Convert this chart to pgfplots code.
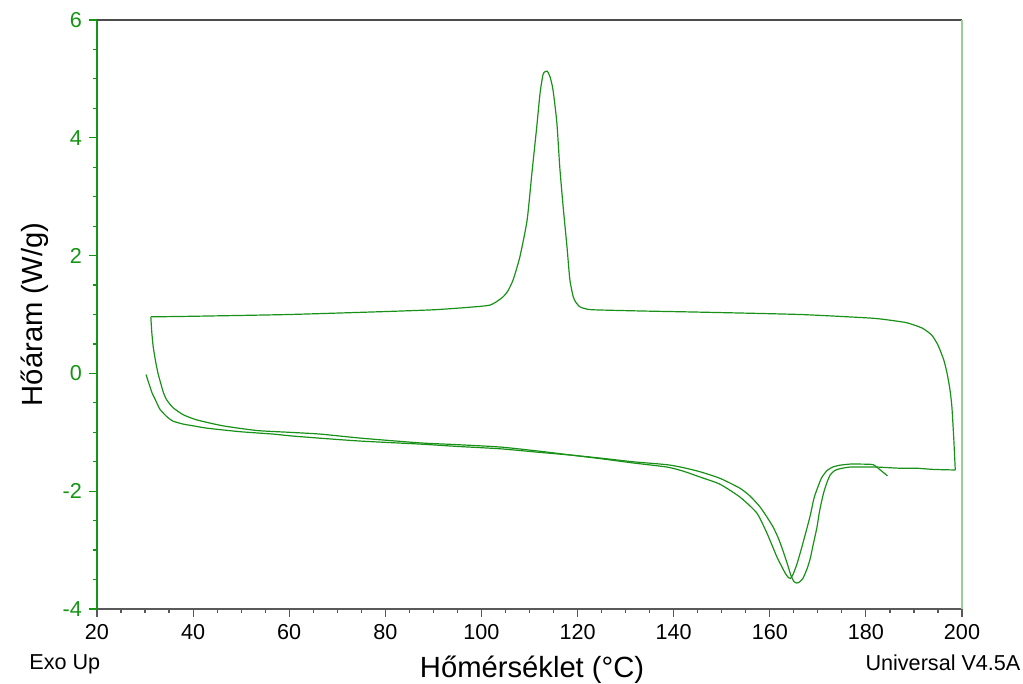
\documentclass[border=0pt]{standalone}
\usepackage{pgfplots}
\pgfplotsset{compat=1.18}
\usepackage{pgfplotstable}
\usepackage{fontspec}
\setmainfont{Liberation Sans}
\definecolor{dscgreen}{RGB}{25,145,25}
\definecolor{axgreen}{RGB}{20,150,20}
\definecolor{lightgreen}{RGB}{150,210,150}

% first heating
\pgfplotstableread{
T q
30.2 -0.02
30.6 -0.12
31.0 -0.22
31.5 -0.34
32.1 -0.44
33.1 -0.61
34.6 -0.74
35.8 -0.81
37.9 -0.86
40.0 -0.89
42.9 -0.93
49.8 -0.99
56.6 -1.03
60.2 -1.06
66.4 -1.10
75.0 -1.15
87.2 -1.20
95.0 -1.24
103.9 -1.28
112.0 -1.34
119.0 -1.39
125.0 -1.44
131.5 -1.50
138.6 -1.55
142.0 -1.60
145.5 -1.67
149.6 -1.78
153.8 -1.95
156.0 -2.09
158.0 -2.27
159.5 -2.45
160.7 -2.61
161.8 -2.80
162.7 -3.00
163.6 -3.22
164.4 -3.43
165.0 -3.53
165.6 -3.56
166.2 -3.54
166.9 -3.48
167.7 -3.33
168.4 -3.15
169.0 -2.92
169.8 -2.62
170.4 -2.32
171.2 -2.03
171.9 -1.85
172.6 -1.72
173.5 -1.65
174.5 -1.62
176.7 -1.59
180.2 -1.59
182.3 -1.59
187.1 -1.61
190.6 -1.61
194.0 -1.63
198.6 -1.64
}\heatone

% cooling
\pgfplotstableread{
T q
198.6 -1.64
198.4 -1.30
198.3 -1.13
197.9 -0.57
197.5 -0.28
196.9 0.00
196.2 0.23
195.0 0.48
193.7 0.65
191.7 0.77
188.5 0.86
184.4 0.91
180.8 0.94
166.3 1.00
145.5 1.04
133.0 1.06
123.2 1.08
121.5 1.10
120.5 1.13
119.7 1.20
119.1 1.30
118.4 1.59
117.8 2.15
117.0 2.83
116.3 3.50
115.7 4.25
114.9 4.81
114.3 5.03
113.7 5.13
113.2 5.12
112.8 5.07
112.2 4.76
111.5 4.18
110.5 3.40
109.5 2.60
108.0 1.98
106.6 1.59
105.5 1.40
104.5 1.30
103.0 1.21
101.8 1.16
100.0 1.14
95.5 1.11
90.0 1.08
80.0 1.05
60.0 1.00
40.0 0.97
31.2 0.96
}\cooling

% second heating
\pgfplotstableread{
T q
31.2 0.96
31.4 0.70
31.7 0.45
32.2 0.20
32.7 0.00
33.2 -0.15
33.8 -0.32
34.5 -0.45
35.8 -0.58
37.9 -0.70
40.8 -0.79
46.2 -0.89
53.3 -0.97
60.0 -1.00
66.4 -1.03
75.0 -1.10
87.2 -1.18
95.0 -1.21
103.9 -1.25
112.0 -1.32
119.0 -1.39
125.0 -1.45
131.5 -1.52
138.6 -1.59
142.0 -1.66
145.5 -1.76
149.6 -1.88
153.8 -2.10
157.3 -2.37
159.4 -2.71
161.5 -3.12
162.5 -3.28
163.2 -3.39
163.8 -3.46
164.3 -3.48
164.8 -3.42
165.6 -3.25
166.5 -3.00
167.5 -2.70
168.4 -2.42
169.2 -2.12
170.0 -1.93
170.8 -1.77
171.9 -1.65
173.1 -1.59
174.5 -1.56
176.7 -1.54
179.0 -1.54
181.5 -1.55
183.0 -1.64
184.5 -1.74
}\heattwo

\begin{document}
\begin{tikzpicture}
\useasboundingbox (-48.5pt,-37.5pt) rectangle (463pt,304.5pt);
\begin{axis}[
  scale only axis, width=432.5pt, height=294.5pt,
  xmin=20, xmax=200, ymin=-4, ymax=6,
  axis x line*=bottom, axis y line*=left,
  xtick={20,40,...,200}, ytick={-4,-2,...,6},
  minor x tick num=3, minor y tick num=3,
  tick align=outside,
  major tick length=4pt, minor tick length=2pt,
  x axis line style={black!65, line width=0.6pt},
  y axis line style={axgreen, line width=0.6pt},
  x tick style={black!65, line width=0.6pt},
  y tick style={axgreen, line width=0.6pt},
  ticklabel style={font=\fontsize{10.8}{13}\selectfont},
  yticklabel style={text=axgreen},
  /pgf/number format/assume math mode=true,
  xlabel={Hőmérséklet (°C)}, ylabel={Hőáram (W/g)},
  every axis x label/.style={at={(axis description cs:0.503,-0.117)}, anchor=base, font=\fontsize{14.6}{17}\selectfont},
  every axis y label/.style={at={(axis description cs:-0.072,0.5)}, rotate=90, anchor=center, font=\fontsize{14.6}{17}\selectfont},
  clip=false,
]
\addplot[dscgreen, line width=0.6pt, smooth, tension=0.35] table[x=T, y=q] {\heatone};
\addplot[dscgreen, line width=0.6pt, smooth, tension=0.35] table[x=T, y=q] {\cooling};
\addplot[dscgreen, line width=0.6pt, smooth, tension=0.35] table[x=T, y=q] {\heattwo};
\draw[black!70, line width=0.6pt] (rel axis cs:0,1) -- (rel axis cs:1,1);
\draw[lightgreen, line width=1.1pt] (rel axis cs:1,0) -- (rel axis cs:1,1);
\node[anchor=base west, inner sep=0pt, font=\fontsize{10.8}{13}\selectfont] at (axis description cs:-0.0786,-0.102) {Exo Up};
\node[anchor=base east, inner sep=0pt, font=\fontsize{10.8}{13}\selectfont] at (axis description cs:1.068,-0.105) {Universal V4.5A};
\end{axis}
\end{tikzpicture}
\end{document}
